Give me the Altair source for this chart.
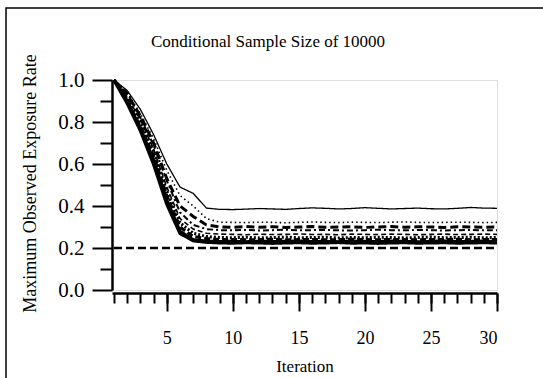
import altair as alt
import pandas as pd

# ---------------- data ----------------
iterations = list(range(1, 31))

s1 = [1.00, 0.95, 0.86, 0.74, 0.60, 0.49, 0.46, 0.39, 0.384, 0.383, 0.385, 0.388, 0.386, 0.384, 0.388,
      0.391, 0.389, 0.386, 0.388, 0.392, 0.389, 0.386, 0.388, 0.390, 0.387, 0.386, 0.389, 0.393, 0.390, 0.389]
s2 = [1.00, 0.94, 0.84, 0.72, 0.57, 0.45, 0.40, 0.34, 0.323, 0.322, 0.321, 0.323, 0.322, 0.320, 0.322,
      0.324, 0.322, 0.321, 0.323, 0.322, 0.321, 0.323, 0.324, 0.322, 0.321, 0.322, 0.323, 0.322, 0.321, 0.322]
s3 = [1.00, 0.93, 0.83, 0.70, 0.53, 0.40, 0.35, 0.31, 0.300, 0.298, 0.302, 0.299, 0.301, 0.298, 0.300,
      0.302, 0.299, 0.300, 0.301, 0.298, 0.300, 0.302, 0.299, 0.301, 0.300, 0.298, 0.301, 0.300, 0.299, 0.300]
s4 = [1.00, 0.94, 0.82, 0.69, 0.52, 0.37, 0.31, 0.29, 0.285, 0.284, 0.286, 0.283, 0.285, 0.287, 0.284,
      0.285, 0.286, 0.284, 0.283, 0.285, 0.287, 0.285, 0.284, 0.286, 0.285, 0.283, 0.285, 0.286, 0.284, 0.285]
s5 = [1.00, 0.92, 0.81, 0.67, 0.49, 0.34, 0.29, 0.27, 0.266, 0.265, 0.263, 0.266, 0.264, 0.265, 0.267,
      0.264, 0.265, 0.263, 0.266, 0.265, 0.264, 0.266, 0.265, 0.263, 0.265, 0.266, 0.264, 0.265, 0.266, 0.265]
s6 = [1.00, 0.91, 0.80, 0.66, 0.47, 0.32, 0.27, 0.255, 0.250, 0.249, 0.251, 0.248, 0.250, 0.252, 0.249,
      0.250, 0.251, 0.248, 0.250, 0.249, 0.251, 0.250, 0.248, 0.250, 0.252, 0.249, 0.250, 0.251, 0.249, 0.250]
s7 = [1.00, 0.90, 0.78, 0.64, 0.45, 0.30, 0.255, 0.245, 0.240, 0.241, 0.239, 0.240, 0.242, 0.239, 0.240,
      0.241, 0.239, 0.240, 0.242, 0.240, 0.239, 0.241, 0.240, 0.239, 0.241, 0.240, 0.242, 0.239, 0.240, 0.241]
s8 = [1.00, 0.90, 0.77, 0.62, 0.43, 0.28, 0.24, 0.233, 0.231, 0.232, 0.230, 0.233, 0.231, 0.232, 0.234,
      0.231, 0.232, 0.230, 0.233, 0.232, 0.231, 0.233, 0.232, 0.230, 0.232, 0.234, 0.231, 0.232, 0.233, 0.232]
s9 = [1.00, 0.89, 0.76, 0.60, 0.41, 0.27, 0.235, 0.228, 0.225, 0.224, 0.226, 0.225, 0.223, 0.225, 0.226,
      0.224, 0.225, 0.227, 0.224, 0.225, 0.223, 0.225, 0.226, 0.224, 0.225, 0.226, 0.224, 0.225, 0.226, 0.225]

series_values = [s1, s2, s3, s4, s5, s6, s7, s8, s9]

ref_iter = [1, 30]
ref_val = [0.2, 0.2]

x_major = [5, 10, 15, 20, 25, 30]
x_minor = list(range(1, 31))
y_major = [0.0, 0.2, 0.4, 0.6, 0.8, 1.0]
y_minor = [0.1, 0.3, 0.5, 0.7, 0.9]

chart_title = ["Conditional Sample Size of 10000"]

# ---------------- styles ----------------
dashes = [[1, 0], [1.5, 3], [8, 4], [6, 3, 2, 3], [5, 3], [2, 2], [6, 3], [1, 0], [1, 0]]
widths = [1.3, 1.6, 3.0, 2.0, 1.6, 3.0, 3.0, 3.0, 3.5]

FONT = "Liberation Serif"
xscale = alt.Scale(domain=[0.85, 30], nice=False, zero=False)
yscale = alt.Scale(domain=[0, 1], nice=False)

ref_df = pd.DataFrame({"Iteration": ref_iter, "Rate": ref_val})
ref = alt.Chart(ref_df).mark_line(color="black", strokeDash=[8, 4], strokeWidth=2.5).encode(
    x=alt.X("Iteration:Q", scale=xscale,
            axis=alt.Axis(orient="bottom", values=x_minor, tickSize=10, tickWidth=2, tickColor="black",
                          labels=False, domain=False, title=None, offset=3, grid=False)),
    y=alt.Y("Rate:Q", scale=yscale,
            axis=alt.Axis(orient="left", values=y_minor, tickSize=12, tickWidth=2, tickColor="black",
                          labels=False, domain=False, title=None, grid=False)),
)

layers = [ref]
for i, (vals, dash, w) in enumerate(zip(series_values, dashes, widths)):
    df = pd.DataFrame({"Iteration": iterations, "Rate": vals})
    if i == 0:
        xax = alt.Axis(orient="bottom", values=x_major, tickSize=18, tickWidth=2, tickColor="black",
                       domainWidth=2.5, domainColor="black", labelFont=FONT, labelFontSize=18,
                       labelColor="black", labelPadding=18, format="d", grid=False, offset=3,
                       title="Iteration", titleFont=FONT, titleFontSize=17, titleFontWeight="normal",
                       titleColor="black", titleBaseline="alphabetic", titleY=78)
        yax = alt.Axis(orient="left", values=y_major, tickSize=20, tickWidth=2, tickColor="black",
                       domainWidth=2.5, domainColor="black", labelFont=FONT, labelFontSize=21,
                       labelColor="black", labelPadding=8, format=".1f", grid=False,
                       title="Maximum Observed Exposure Rate", titleFont=FONT, titleFontSize=18,
                       titleFontWeight="normal", titleColor="black", titleX=-82, titleY=103,
                       titleAngle=-90, titleBaseline="middle", titleAlign="center")
        x = alt.X("Iteration:Q", scale=xscale, axis=xax)
        y = alt.Y("Rate:Q", scale=yscale, axis=yax)
    else:
        x = alt.X("Iteration:Q", scale=xscale, axis=None)
        y = alt.Y("Rate:Q", scale=yscale, axis=None)
    layers.append(
        alt.Chart(df).mark_line(color="black", strokeDash=dash, strokeWidth=w).encode(x=x, y=y)
    )

frame = alt.Chart(pd.DataFrame({"a": [0]})).mark_rect(filled=False, stroke="black", strokeWidth=1.5).encode(
    x=alt.value(-106), x2=alt.value(440), y=alt.value(-72), y2=alt.value(320)
)
layers.append(frame)

title_mark = alt.Chart(pd.DataFrame({"t": chart_title})).mark_text(
    font=FONT, fontSize=17, color="black", align="center", baseline="alphabetic"
).encode(text="t:N", x=alt.value(156), y=alt.value(-33))
layers.append(title_mark)

chart = alt.layer(*layers).resolve_axis(x="independent", y="independent").properties(
    width=385, height=210,
    autosize=alt.AutoSizeParams(type="none"),
    padding={"left": 112, "top": 80, "right": 46, "bottom": 88},
).configure_view(stroke=None).configure(background="white")

chart.save("out.html", embed_options={"renderer": "svg", "actions": False})
